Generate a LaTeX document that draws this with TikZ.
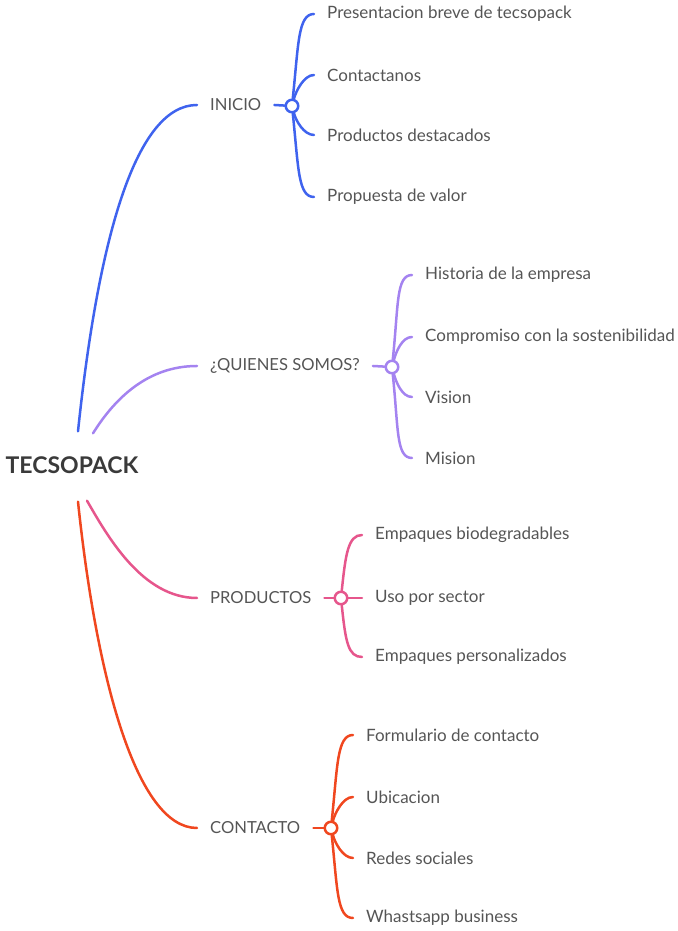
\documentclass[tikz,border=0pt]{standalone}
\usepackage{fontspec}
\setmainfont{Lato}
\usetikzlibrary{positioning,calc}
\definecolor{fg}{HTML}{3A3A3A}
\definecolor{fgbody}{HTML}{555555}
\definecolor{cini}{HTML}{3F63EE}
\definecolor{cqs}{HTML}{A483F0}
\definecolor{cprod}{HTML}{E6568C}
\definecolor{ccont}{HTML}{F0471F}

\begin{document}
\begin{tikzpicture}[x=1pt,y=1pt,
  every node/.append style={text=fgbody},
  root/.style={font=\fontsize{23}{26}\selectfont\bfseries, text=fg, inner xsep=2pt, inner ysep=22pt},
  topic/.style={anchor=west, inner xsep=13pt, inner ysep=2pt, font=\fontsize{16.6}{19}\selectfont},
  leaf/.style={anchor=west, inner xsep=13pt, inner ysep=2pt, font=\fontsize{17}{20}\selectfont},
  hub/.style={circle, draw=#1, fill=white, line width=2.5pt, minimum size=12.5pt, inner sep=0pt},
  br/.style={draw=#1, line width=2.5pt, line cap=round},
]
\useasboundingbox (0,0) rectangle (677,931);
% central topic
\node[root] (root) at (72,466) {TECSOPACK};
\coordinate (rini) at ($(root.north)+(6,3)$);
\coordinate (rqs) at ($(root.north)+(21,1)$);
\coordinate (rprod) at ($(root.south)+(15,-5)$);
\coordinate (rcont) at ($(root.south)+(6,-6)$);
% first level
\node[topic] (ini) at (197,826) {INICIO};
\node[topic] (qs) at (197,565) {¿QUIENES SOMOS?};
\node[topic] (prod) at (197,333) {PRODUCTOS};
\node[topic] (cont) at (197,103) {CONTACTO};
\draw[br=cini] (rini) to[out=84,in=180,out distance=200pt,in distance=60pt] (ini.west);
\draw[br=cqs] (rqs) to[out=58,in=180,out distance=40pt,in distance=50pt] (qs.west);
\draw[br=cprod] (rprod) to[out=-60,in=180,out distance=40pt,in distance=55pt] (prod.west);
\draw[br=ccont] (rcont) to[out=-84,in=180,out distance=180pt,in distance=60pt] (cont.west);
% INICIO
\node[hub=cini] (hini) at (292,825) {};
\node[leaf] (i1) at (314,917) {Presentacion breve de tecsopack};
\node[leaf] (i2) at (314,856) {Contactanos};
\node[leaf] (i3) at (314,796) {Productos destacados};
\node[leaf] (i4) at (314,734) {Propuesta de valor};
\draw[br=cini] (ini.east) -- (hini);
\draw[br=cini] (hini) to[out=84,in=180,out distance=55pt,in distance=16pt] (i1.west);
\draw[br=cini] (hini) to[out=75,in=180,out distance=8pt,in distance=10pt] (i2.west);
\draw[br=cini] (hini) to[out=-75,in=180,out distance=8pt,in distance=10pt] (i3.west);
\draw[br=cini] (hini) to[out=-84,in=180,out distance=55pt,in distance=16pt] (i4.west);
% QUIENES SOMOS
\node[hub=cqs] (hqs) at (392,564) {};
\node[leaf] (q1) at (412,656) {Historia de la empresa};
\node[leaf] (q2) at (412,594) {Compromiso con la sostenibilidad};
\node[leaf] (q3) at (412,534) {Vision};
\node[leaf] (q4) at (412,473) {Mision};
\draw[br=cqs] (qs.east) -- (hqs);
\draw[br=cqs] (hqs) to[out=84,in=180,out distance=55pt,in distance=16pt] (q1.west);
\draw[br=cqs] (hqs) to[out=75,in=180,out distance=8pt,in distance=10pt] (q2.west);
\draw[br=cqs] (hqs) to[out=-75,in=180,out distance=8pt,in distance=10pt] (q3.west);
\draw[br=cqs] (hqs) to[out=-84,in=180,out distance=55pt,in distance=16pt] (q4.west);
% PRODUCTOS
\node[hub=cprod] (hprod) at (341,333) {};
\node[leaf] (p1) at (362,396) {Empaques biodegradables};
\node[leaf] (p2) at (362,333) {Uso por sector};
\node[leaf] (p3) at (362,274) {Empaques personalizados};
\draw[br=cprod] (prod.east) -- (hprod);
\draw[br=cprod] (hprod) to[out=84,in=180,out distance=36pt,in distance=14pt] (p1.west);
\draw[br=cprod] (hprod) -- (p2.west);
\draw[br=cprod] (hprod) to[out=-84,in=180,out distance=36pt,in distance=14pt] (p3.west);
% CONTACTO
\node[hub=ccont] (hcont) at (331,103) {};
\node[leaf] (c1) at (353,196) {Formulario de contacto};
\node[leaf] (c2) at (353,134) {Ubicacion};
\node[leaf] (c3) at (353,73) {Redes sociales};
\node[leaf] (c4) at (353,13) {Whastsapp business};
\draw[br=ccont] (cont.east) -- (hcont);
\draw[br=ccont] (hcont) to[out=84,in=180,out distance=55pt,in distance=16pt] (c1.west);
\draw[br=ccont] (hcont) to[out=75,in=180,out distance=8pt,in distance=10pt] (c2.west);
\draw[br=ccont] (hcont) to[out=-75,in=180,out distance=8pt,in distance=10pt] (c3.west);
\draw[br=ccont] (hcont) to[out=-84,in=180,out distance=55pt,in distance=16pt] (c4.west);
\end{tikzpicture}
\end{document}
